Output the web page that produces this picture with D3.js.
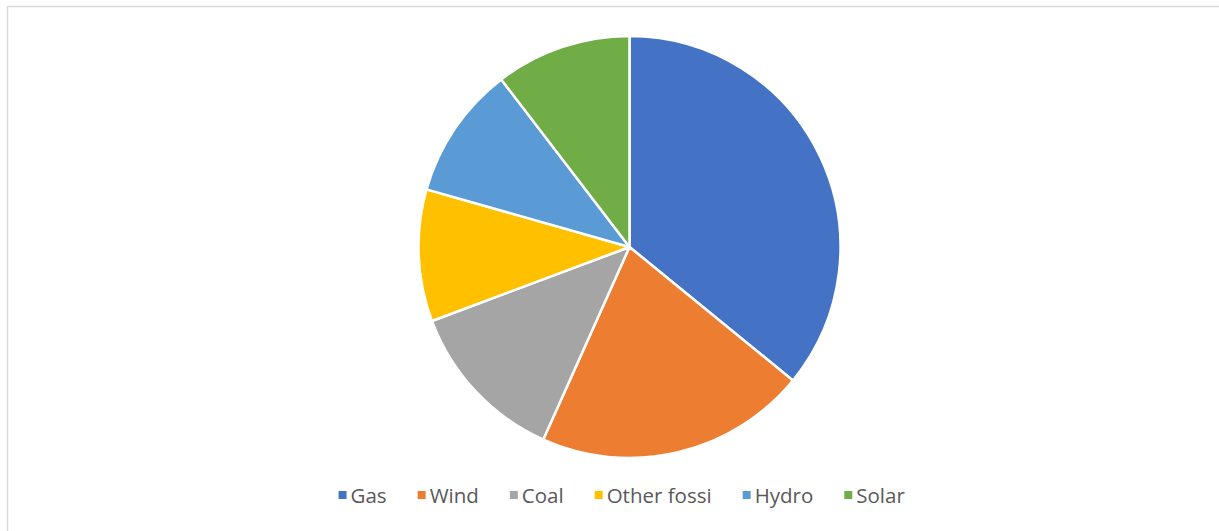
<!DOCTYPE html>
<meta charset="utf-8" />
<script src="https://d3js.org/d3.v7.min.js"></script>
<div id="chart"></div>
<script>
  // source shares (percent)
  const categories = ["Gas", "Wind", "Coal", "Other fossi", "Hydro", "Solar"];
  const values = [35.9, 20.8, 12.6, 10.1, 10.2, 10.4];
  const colors = ["#4472C4", "#ED7D31", "#A5A5A5", "#FFC000", "#5B9BD5", "#70AD47"];

  const width = 1219,
    height = 531;
  const cx = 629.5,
    cy = 247,
    radius = 211;

  const svg = d3
    .select("#chart")
    .append("svg")
    .attr("width", width)
    .attr("height", height);

  // chart frame (only top and left edges visible)
  svg
    .append("rect")
    .attr("x", 7.5)
    .attr("y", 6.5)
    .attr("width", width + 20)
    .attr("height", height + 20)
    .attr("fill", "white")
    .attr("stroke", "#D9D9D9")
    .attr("stroke-width", 1.5);

  const data = categories.map((c, i) => ({ name: c, value: values[i], color: colors[i] }));

  const pie = d3.pie().sort(null).value((d) => d.value);
  const arc = d3.arc().innerRadius(0).outerRadius(radius);

  svg
    .append("g")
    .attr("transform", `translate(${cx}, ${cy})`)
    .selectAll("path")
    .data(pie(data))
    .join("path")
    .attr("d", arc)
    .attr("fill", (d) => d.data.color)
    .attr("stroke", "white")
    .attr("stroke-width", 2.5)
    .attr("stroke-linejoin", "round");

  // legend
  const legend = svg.append("g").attr("font-family", "'Open Sans', sans-serif").attr("font-size", "20.5px");
  const items = legend
    .selectAll("g")
    .data(data)
    .join("g");
  items
    .append("rect")
    .attr("width", 8)
    .attr("height", 8)
    .attr("y", -12)
    .attr("fill", (d) => d.color);
  items
    .append("text")
    .attr("x", 12)
    .attr("y", 0)
    .attr("fill", "#595959")
    .text((d) => d.name);

  let xPos = 0;
  const gap = 31;
  items.each(function () {
    const w = this.getBBox().width;
    d3.select(this).attr("transform", `translate(${xPos}, 0)`);
    xPos += w + gap;
  });
  const total = xPos - gap;
  legend.attr("transform", `translate(${622 - total / 2}, 503)`);
</script>
<style>
  body {
    margin: 0;
    background: white;
  }
</style>
